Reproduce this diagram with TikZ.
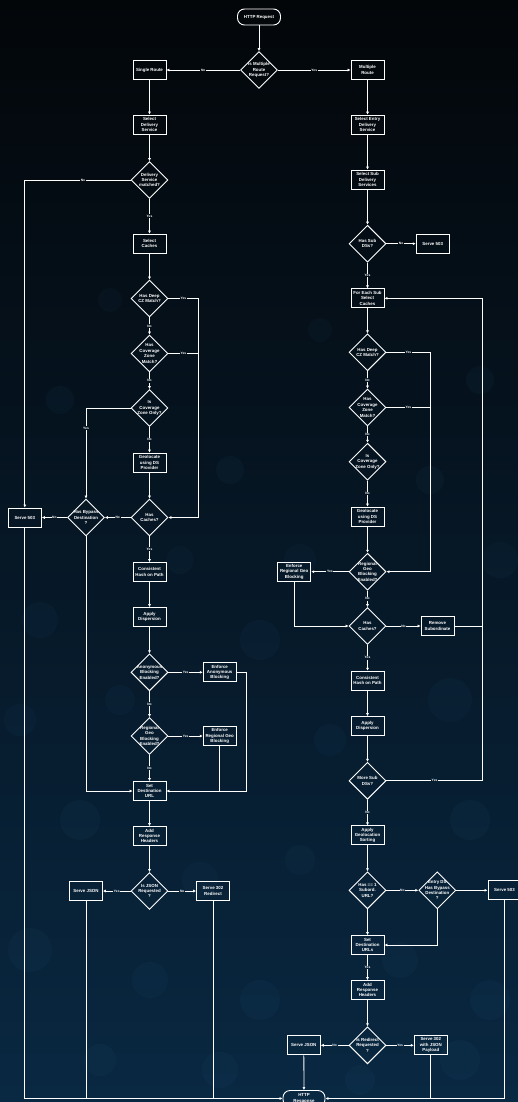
\documentclass[tikz,border=0pt]{standalone}
\usepackage{fontspec}
\setmainfont{Liberation Sans}
\usetikzlibrary{shapes.geometric,arrows.meta}
\definecolor{bgTop}{RGB}{3,6,9}
\definecolor{bgBot}{RGB}{9,40,66}
\definecolor{bokeh}{RGB}{60,120,170}
\newcommand{\nf}{\fontsize{4.4}{5.4}\selectfont\bfseries}
\newcommand{\lf}{\fontsize{3.3}{3.7}\selectfont\bfseries}
\tikzset{
  box/.style={draw=white, line width=0.9pt, minimum width=33pt, minimum height=19pt,
    inner sep=1pt, align=center, font=\nf, text=white},
  term/.style={draw=white, line width=0.9pt, rounded corners=7pt, minimum width=43pt,
    minimum height=16pt, inner sep=1pt, align=center, font=\nf, text=white},
  dia/.style={diamond, draw=white, line width=0.9pt, minimum width=37pt,
    minimum height=37pt, inner sep=0pt},
  dt/.style={align=center, font=\nf, text=white, inner sep=0pt},
  arr/.style={draw=white, line width=0.8pt, -{Latex[length=3pt,width=3pt]}},
  ln/.style={draw=white, line width=0.8pt},
  lb/.style={fill=bgBot!#1!bgTop, inner sep=0.7pt, font=\lf, text=white},
}
\begin{document}
\begin{tikzpicture}[x=1pt,y=-1pt]
\useasboundingbox (0,0) rectangle (518,1102);
\clip (0,0) rectangle (518,1102);
\shade[top color=bgTop, bottom color=bgBot] (0,0) rectangle (518,1102);
\foreach \cx/\cy/\r in {40/620/18,120/700/15,260/640/20,330/740/16,450/700/22,80/820/20,
  200/880/18,300/860/15,470/820/20,30/950/22,150/980/18,260/1000/20,400/960/18,490/1000/20,
  100/1060/16,220/1070/18,360/1080/15,460/1060/20,60/400/14,230/470/14,430/480/14,
  300/560/16,500/560/18,180/560/14,20/720/16,110/300/12,320/330/12,480/380/14}
  \fill[bokeh, opacity=0.05] (\cx,\cy) circle (\r);

% ---------- top ----------
\node[term] (req) at (259,17) {HTTP Request};
\node[dia, label={[dt]center:Is Multiple\\Route\\Request?}] (mr) at (259,70) {};
\node[box] (sr) at (149.5,70) {Single Route};
\node[box] (mrt) at (367.5,70) {Multiple\\Route};

% ---------- left column ----------
\node[box] (sds) at (149.5,124.5) {Select\\Delivery\\Service};
\node[dia, label={[dt]center:Delivery\\Service\\matched?}] (dsm) at (149.5,180) {};
\node[box] (sc) at (149.5,243.5) {Select\\Caches};
\node[dia, label={[dt]center:Has Deep\\CZ Match?}] (dcz) at (149.5,298.5) {};
\node[dia, label={[dt]center:Has\\Coverage\\Zone\\Match?}] (czm) at (149.5,353.5) {};
\node[dia, label={[dt]center:Is\\Coverage\\Zone Only?}] (czo) at (149.5,408) {};
\node[box] (geo) at (149.5,462.5) {Geolocate\\using DS\\Provider};
\node[dia, label={[dt]center:Has\\Caches?}] (hc) at (149.5,517.5) {};
\node[dia, label={[dt]center:Has Bypass\\Destination\\?}] (hbd) at (86,517.5) {};
\node[box] (s503a) at (24.8,517.5) {Serve 503};
\node[box] (chp) at (149.5,572) {Consistent\\Hash on Path};
\node[box] (ad) at (149.5,617) {Apply\\Dispersion};
\node[dia, label={[dt]center:Anonymous\\Blocking\\Enabled?}] (abe) at (149.5,672.3) {};
\node[box] (eab) at (219.7,672.3) {Enforce\\Anonymous\\Blocking};
\node[dia, label={[dt]center:Regional\\Geo\\Blocking\\Enabled?}] (rgb) at (149.5,736) {};
\node[box] (erg) at (219.7,736) {Enforce\\Regional Geo\\Blocking};
\node[box] (sdu) at (149.5,791) {Set\\Destination\\URL};
\node[box] (arh) at (149.5,836) {Add\\Response\\Headers};
\node[dia, label={[dt]center:Is JSON\\Requested\\?}] (ijr) at (149.5,891) {};
\node[box] (sj) at (86,891) {Serve JSON};
\node[box] (s302) at (213,891) {Serve 302\\Redirect};
\node[term, minimum width=42pt] (resp) at (304,1098.5) {HTTP\\Response};

% ---------- right column ----------
\node[box] (seds) at (367.5,124.7) {Select Entry\\Delivery\\Service};
\node[box] (ssds) at (367.5,179.5) {Select Sub\\Delivery\\Services};
\node[dia, label={[dt]center:Has Sub\\DSs?}] (hsd) at (367.5,243.7) {};
\node[box] (s503b) at (432.7,243.7) {Serve 503};
\node[box] (fesc) at (367.5,298.3) {For Each Sub\\Select\\Caches};
\node[dia, label={[dt]center:Has Deep\\CZ Match?}] (rdcz) at (367.5,352.3) {};
\node[dia, label={[dt]center:Has\\Coverage\\Zone\\Match?}] (rczm) at (367.5,407.5) {};
\node[dia, label={[dt]center:Is\\Coverage\\Zone Only?}] (rczo) at (367.5,461.7) {};
\node[box] (rgeo) at (367.5,516.5) {Geolocate\\using DS\\Provider};
\node[dia, label={[dt]center:Regional\\Geo\\Blocking\\Enabled?}] (rrgb) at (367.5,571.7) {};
\node[box] (rerg) at (294.2,571.7) {Enforce\\Regional Geo\\Blocking};
\node[dia, label={[dt]center:Has\\Caches?}] (rhc) at (367.5,626) {};
\node[box] (rs) at (437.5,626) {Remove\\Subordinate};
\node[box] (rchp) at (367.5,680.7) {Consistent\\Hash on Path};
\node[box] (rad) at (367.5,726) {Apply\\Dispersion};
\node[dia, label={[dt]center:More Sub\\DSs?}] (msd) at (367.5,780.8) {};
\node[box] (ags) at (367.5,835.4) {Apply\\Geolocation\\Sorting};
\node[dia, label={[dt]center:Has == 1\\Subord.\\URL?}] (h1) at (367.5,890.3) {};
\node[dia, label={[dt]center:Entry DS\\Has Bypass\\Destination\\?}] (ebd) at (437.3,890.3) {};
\node[box] (s503c) at (504.5,890.3) {Serve 503};
\node[box] (sdus) at (367.5,945) {Set\\Destination\\URLs};
\node[box] (rarh) at (367.5,990) {Add\\Response\\Headers};
\node[dia, label={[dt]center:Is Redirect\\Requested\\?}] (irr) at (367.5,1045.3) {};
\node[box] (rsj) at (303.8,1045.3) {Serve JSON};
\node[box] (s302j) at (430.8,1045.3) {Serve 302\\with JSON\\Payload};

% helper coordinates
\coordinate (lj) at (198.5,298.5);
\coordinate (la) at (246.3,672.3);
\coordinate (rj) at (430.3,352.3);
\coordinate (loop) at (482.7,780.8);

% ---------- top edges ----------
\draw[arr] (req) -- (mr);
\draw[arr] (mr) -- node[lb=6]{No} (sr);
\draw[arr] (mr) -- node[lb=6]{Yes} (mrt);
\draw[arr] (sr) -- (sds);
\draw[arr] (mrt) -- (seds);

% ---------- left edges ----------
\draw[arr] (sds) -- (dsm);
\draw[arr] (dsm.west) -- node[lb=16,pos=0.45]{No} (dsm.west -| s503a) -- (s503a.north);
\draw[arr] (dsm) -- node[lb=20]{Yes} (sc);
\draw[arr] (sc) -- (dcz);
\draw[arr] (dcz) -- node[lb=30]{No} (czm);
\draw[arr] (dcz.east) -- node[lb=27]{Yes} (lj) -- (lj |- hc) -- (hc.east);
\draw[ln] (czm.east) -- node[lb=32]{Yes} (czm.east -| lj);
\draw[arr] (czm) -- node[lb=34]{No} (czo);
\draw[arr] (czo.west) -- (czo.west -| hbd) -- node[lb=39,pos=0.22]{Yes} (hbd.north);
\draw[arr] (czo) -- node[lb=40]{No} (geo);
\draw[arr] (geo) -- (hc);
\draw[arr] (hc) -- node[lb=47]{No} (hbd);
\draw[arr] (hbd) -- node[lb=47]{No} (s503a);
\draw[arr] (hbd.south) -- (hbd.south |- sdu) -- (sdu.west);
\draw[arr] (hc) -- node[lb=50]{Yes} (chp);
\draw[arr] (chp) -- (ad);
\draw[arr] (ad) -- (abe);
\draw[arr] (abe) -- node[lb=61]{Yes} (eab);
\draw[arr] (eab.east) -- (la) -- (la |- sdu) -- (sdu.east);
\draw[arr] (abe) -- node[lb=64]{No} (rgb);
\draw[arr] (rgb) -- node[lb=67]{Yes} (erg);
\draw[ln] (erg.south) -- (erg.south |- sdu);
\draw[arr] (rgb) -- node[lb=70]{No} (sdu);
\draw[arr] (sdu) -- (arh);
\draw[arr] (arh) -- (ijr);
\draw[arr] (ijr) -- node[lb=81]{Yes} (sj);
\draw[arr] (ijr) -- node[lb=81]{No} (s302);
\draw[arr] (s503a.south) -- (s503a.south |- resp) -- (resp.west);
\draw[ln] (sj.south) -- (sj.south |- resp);
\draw[ln] (s302.south) -- (s302.south |- resp);

% ---------- right edges ----------
\draw[arr] (seds) -- (ssds);
\draw[arr] (ssds) -- (hsd);
\draw[arr] (hsd) -- node[lb=22]{No} (s503b);
\draw[arr] (hsd) -- node[lb=25]{Yes} (fesc);
\draw[arr] (fesc) -- (rdcz);
\draw[arr] (rdcz.east) -- node[lb=32]{Yes} (rj) -- (rj |- rrgb) -- (rrgb.east);
\draw[ln] (rczm.east) -- node[lb=37]{Yes} (rczm.east -| rj);
\draw[arr] (rdcz) -- node[lb=34]{No} (rczm);
\draw[arr] (rczm) -- node[lb=39]{No} (rczo);
\draw[arr] (rczo) -- node[lb=45]{No} (rgeo);
\draw[arr] (rgeo) -- (rrgb);
\draw[arr] (rrgb) -- node[lb=52]{Yes} (rerg);
\draw[arr] (rrgb) -- node[lb=54]{No} (rhc);
\draw[arr] (rerg.south) -- (rerg.south |- rhc) -- (rhc.west);
\draw[arr] (rhc) -- node[lb=57]{No} (rs);
\draw[ln] (rs.east) -- (rs.east -| loop);
\draw[arr] (rhc) -- node[lb=60]{Yes} (rchp);
\draw[arr] (rchp) -- (rad);
\draw[arr] (rad) -- (msd);
\draw[arr] (msd.east) -- node[lb=71]{Yes} (loop) -- (loop |- fesc) -- (fesc.east);
\draw[arr] (msd) -- node[lb=74]{No} (ags);
\draw[arr] (ags) -- (h1);
\draw[arr] (h1) -- node[lb=81]{No} (ebd);
\draw[arr] (h1) -- (sdus);
\draw[arr] (ebd) -- (s503c);
\draw[arr] (ebd.south) -- (ebd.south |- sdus) -- (sdus.east);
\draw[arr] (sdus) -- node[lb=88]{Yes} (rarh);
\draw[arr] (rarh) -- (irr);
\draw[arr] (irr) -- node[lb=95]{No} (rsj);
\draw[arr] (irr) -- node[lb=95]{Yes} (s302j);
\draw[arr] (rsj) -- (resp);
\draw[arr] (s503c.south) -- (s503c.south |- resp) -- (resp.east);
\draw[ln] (s302j.south) -- (s302j.south |- resp);
\end{tikzpicture}
\end{document}
